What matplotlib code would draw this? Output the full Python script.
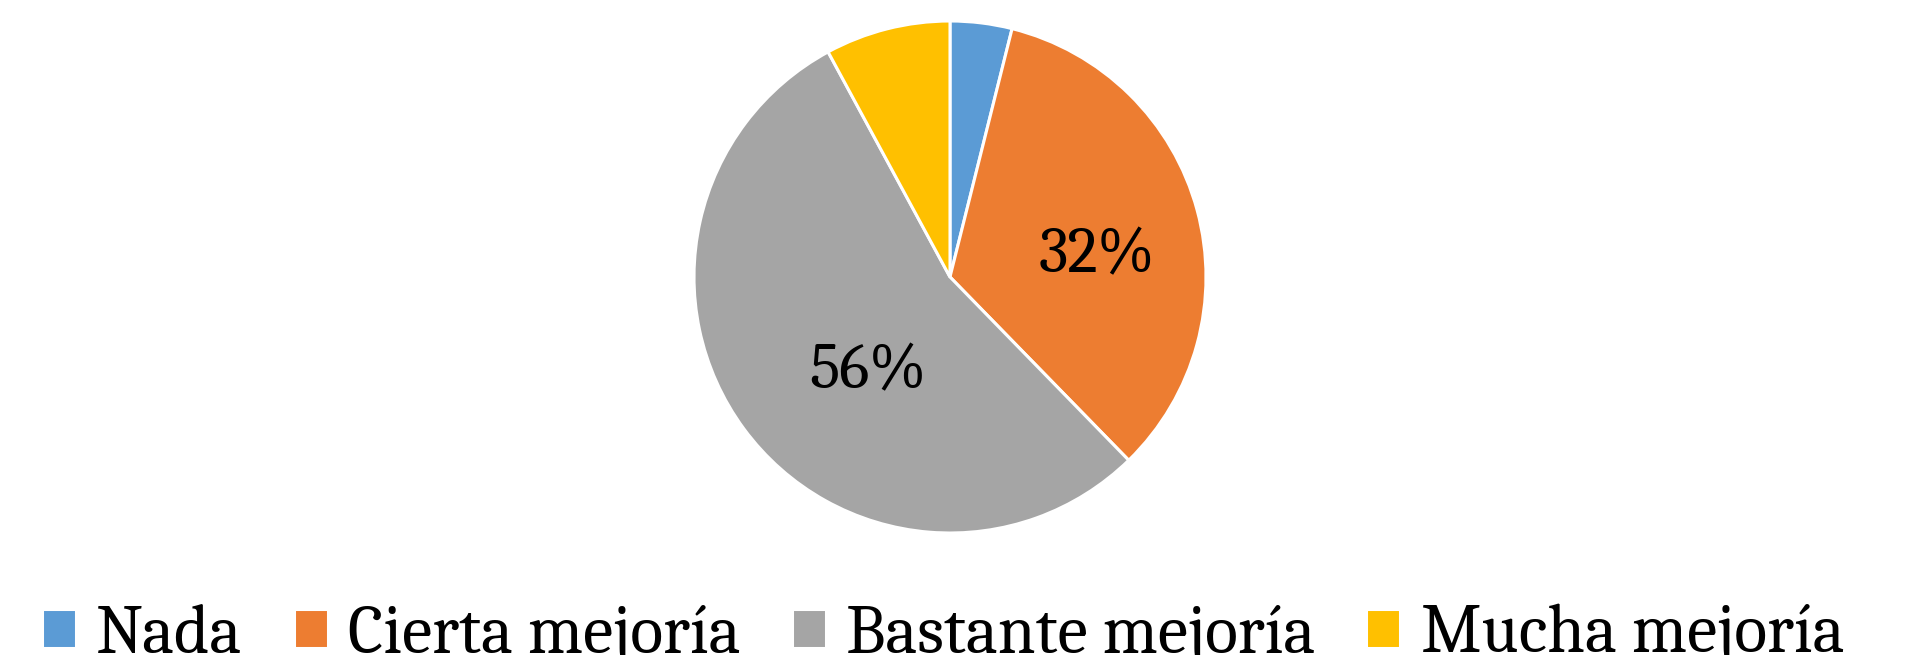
import matplotlib
matplotlib.use("Agg")
import matplotlib.pyplot as plt

# datos (ángulos medidos en la imagen; etiquetas como aparecen)
categorias = ["Nada", "Cierta mejoría", "Bastante mejoría", "Mucha mejoría"]
valores = [3.9, 33.8, 54.4, 7.9]
etiquetas = ["", "32%", "56%", ""]
colores = ["#5B9BD5", "#ED7D31", "#A5A5A5", "#FFC000"]

plt.rcParams['font.family'] = ['Caladea', 'DejaVu Serif']

W, H = 1914, 655
fig = plt.figure(figsize=(W / 100, H / 100), dpi=100)
cx, cy, r = 950, 277, 256
ax = fig.add_axes([(cx - r) / W, (H - cy - r) / H, 2 * r / W, 2 * r / H])

wedges, textos = ax.pie(valores, colors=colores, startangle=90, counterclock=False,
                        labels=etiquetas, labeldistance=0.5,
                        wedgeprops=dict(edgecolor="white", linewidth=2.2),
                        textprops=dict(fontsize=46, color="black"))
# posición de las etiquetas como en el original
pos = {1: (0.575, 0.08), 2: (-0.32, -0.375)}
for i, t in enumerate(textos):
    if i in pos:
        t.set_position(pos[i])
    t.set_ha("center")
    t.set_va("center")
ax.set_xlim(-1, 1)
ax.set_ylim(-1, 1)
ax.set_aspect("equal")
ax.axis("off")

fig.legend(wedges, categorias, loc="center", bbox_to_anchor=(943 / W, 0.029),
           ncol=4, frameon=False, fontsize=49, handlelength=0.5, handleheight=0.5,
           handletextpad=0.3, columnspacing=0.75, borderpad=0)

fig.savefig("out.png", dpi=100)
